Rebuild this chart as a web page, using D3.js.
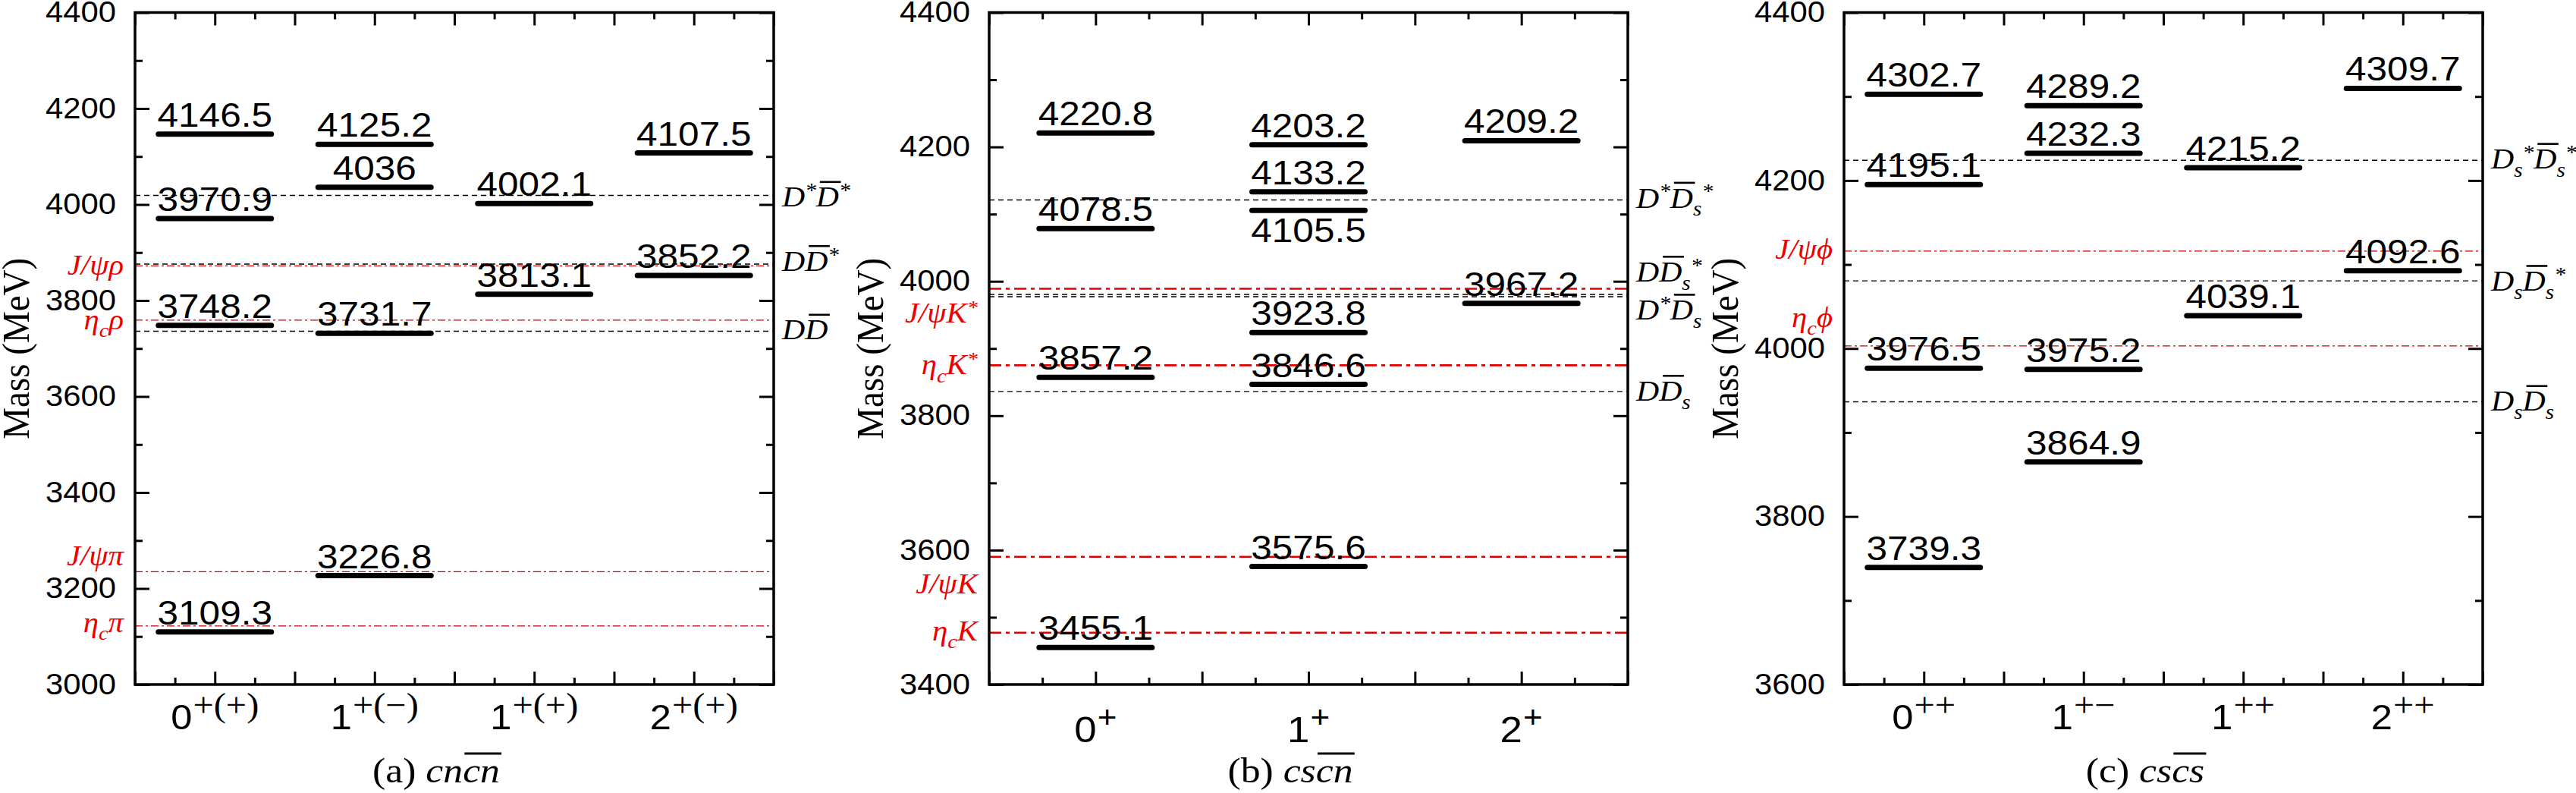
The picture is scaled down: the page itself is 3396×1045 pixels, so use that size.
<!DOCTYPE html>
<html>
<head>
<meta charset="utf-8">
<script src="https://cdn.jsdelivr.net/npm/d3@7"></script>
<style>
  body { margin: 0; background: #fff; }
</style>
</head>
<body>
<script>
// ---------------- data ----------------
// (a) cncn
var catsA = [["0", "+(+)"], ["1", "+(\u2212)"], ["1", "+(+)"], ["2", "+(+)"]];
var levelsA = [[4146.5, 3970.9, 3748.2, 3109.3], [4125.2, 4036, 3731.7, 3226.8], [4002.1, 3813.1], [4107.5, 3852.2]];
var openNamesA = ["D^*~D^*", "D~D^*", "D~D"];
var openMassA = [4019, 3876, 3736];
var hidNamesA = ["J/\u03c8\u03c1", "\u03b7_c\u03c1", "J/\u03c8\u03c0", "\u03b7_c\u03c0"];
var hidMassA = [3872, 3759, 3235, 3122];
var yTicksA = [3000, 3200, 3400, 3600, 3800, 4000, 4200, 4400];
var titleA = ["(a)\u00a0", "cn", "cn"];

// (b) cscn
var catsB = [["0", "+"], ["1", "+"], ["2", "+"]];
var levelsB = [[4220.8, 4078.5, 3857.2, 3455.1], [4203.2, 4133.2, 4105.5, 3923.8, 3846.6, 3575.6], [4209.2, 3967.2]];
var openNamesB = ["D^*~D_s^*", "D~D_s^*", "D^*~D_s", "D~D_s"];
var openMassB = [4121, 3980.5, 3977, 3836];
var hidNamesB = ["J/\u03c8K^*", "\u03b7_cK^*", "J/\u03c8K", "\u03b7_cK"];
var hidMassB = [3989, 3875, 3590, 3477];
var yTicksB = [3400, 3600, 3800, 4000, 4200, 4400];
var titleB = ["(b)\u00a0", "cs", "cn"];

// (c) cscs
var catsC = [["0", "++"], ["1", "+\u2212"], ["1", "++"], ["2", "++"]];
var levelsC = [[4302.7, 4195.1, 3976.5, 3739.3], [4289.2, 4232.3, 3975.2, 3864.9], [4215.2, 4039.1], [4309.7, 4092.6]];
var openNamesC = ["D_s^*~D_s^*", "D_s~D_s^*", "D_s~D_s"];
var openMassC = [4224, 4080.5, 3936.6];
var hidNamesC = ["J/\u03c8\u03d5", "\u03b7_c\u03d5"];
var hidMassC = [4116, 4003];
var yTicksC = [3600, 3800, 4000, 4200, 4400];
var titleC = ["(c)\u00a0", "cs", "cs"];

// ---------------- layout ----------------
var SX = 1.1;                 // the figure is a bit stretched horizontally
var W = 842, TOP = 16.5, BOT = 902, MAXM = 4400;
var SERIF = "'Liberation Serif','Times New Roman',serif";
var SANS = "'Liberation Sans',Arial,sans-serif";
var RED = "#ee0000";

// label nudges so names don't sit on tick labels (px)
var openNudgeA = [3, -3, -1], hidNudgeA = [0, 0, -20, -4];
var openNudgeB = [-2, -29, 18, 0], hidNudgeB = [33, 0, 36, -2];
var openNudgeC = [-1, 1, 0], hidNudgeC = [-2, -37];

var panels = [
  {x0: 178, ymin: 3000, cats: catsA, levels: levelsA, openNames: openNamesA, openMass: openMassA,
   hidNames: hidNamesA, hidMass: hidMassA, yTicks: yTicksA, title: titleA,
   openNudge: openNudgeA, hidNudge: hidNudgeA, below: [],
   redW: 1.3, redDash: "10,4,3,4", redCol: "#c80000", catDy: 59, digitFs: 46, supFs: 44, supFont: SERIF, supRaise: 17},
  {x0: 1304, ymin: 3400, cats: catsB, levels: levelsB, openNames: openNamesB, openMass: openMassB,
   hidNames: hidNamesB, hidMass: hidMassB, yTicks: yTicksB, title: titleB,
   openNudge: openNudgeB, hidNudge: hidNudgeB, below: [4105.5],
   redW: 2.6, redDash: "16,6,5,6", redCol: "#dd0000", catDy: 76, digitFs: 48, supFs: 40, supFont: SANS, supRaise: 19},
  {x0: 2431, ymin: 3600, cats: catsC, levels: levelsC, openNames: openNamesC, openMass: openMassC,
   hidNames: hidNamesC, hidMass: hidMassC, yTicks: yTicksC, title: titleC,
   openNudge: openNudgeC, hidNudge: hidNudgeC, below: [],
   redW: 1.3, redDash: "10,4,3,4", redCol: "#c80000", catDy: 59, digitFs: 46, supFs: 44, supFont: SERIF, supRaise: 17}
];

var svg = d3.select("body").append("svg")
    .attr("width", 3396)
    .attr("height", 1045)
    .style("display", "block");

svg.append("rect").attr("width", 3396).attr("height", 1045).attr("fill", "#fff");

// group translated + stretched, for text
function stretchG(parent, x, y) {
  return parent.append("g").attr("transform", "translate(" + x + "," + y + ") scale(" + SX + ",1)");
}

// tiny markup: ~X = X with overbar, _x = subscript, ^x = superscript
function richLabel(parent, str, size, color) {
  var ch = Array.from(str), toks = [], i = 0;
  while (i < ch.length) {
    if (ch[i] === "~") { toks.push({t: ch[i + 1], pos: 0, bar: true}); i += 2; }
    else if (ch[i] === "^") { toks.push({t: ch[i + 1], pos: 1}); i += 2; }
    else if (ch[i] === "_") { toks.push({t: ch[i + 1], pos: -1}); i += 2; }
    else { toks.push({t: ch[i], pos: 0}); i += 1; }
  }
  var cx = 0;
  toks.forEach(function(k) {
    var fs = k.pos ? size * 0.7 : size;
    var dy = k.pos === 1 ? -size * 0.32 : (k.pos === -1 ? size * 0.28 : 0);
    var t = parent.append("text")
        .attr("x", cx).attr("y", dy)
        .attr("font-family", SERIF).attr("font-style", "italic")
        .attr("font-size", fs).attr("fill", color)
        .text(k.t);
    var w = t.node().getComputedTextLength();
    if (k.bar) {
      parent.append("line")
          .attr("x1", cx + size * 0.12).attr("x2", cx + w + size * 0.06)
          .attr("y1", -size * 0.86).attr("y2", -size * 0.86)
          .attr("stroke", color).attr("stroke-width", 2.6);
    }
    cx += w;
  });
  return cx;
}

panels.forEach(function(p) {
  var n = p.cats.length;
  var x = d3.scaleLinear().domain([-0.5, n - 0.5]).range([p.x0, p.x0 + W]);
  var y = d3.scaleLinear().domain([p.ymin, MAXM]).range([BOT, TOP]);
  var g = svg.append("g");

  // open-charm thresholds (black dashed)
  g.selectAll("line.open").data(p.openMass).enter().append("line")
      .attr("class", "open")
      .attr("x1", p.x0).attr("x2", p.x0 + W)
      .attr("y1", function(d) { return y(d); }).attr("y2", function(d) { return y(d); })
      .attr("stroke", "#000").attr("stroke-width", 1.4).attr("stroke-dasharray", "7,5");

  // hidden-charm thresholds (red dash-dot)
  g.selectAll("line.hid").data(p.hidMass).enter().append("line")
      .attr("class", "hid")
      .attr("x1", p.x0).attr("x2", p.x0 + W)
      .attr("y1", function(d) { return y(d); }).attr("y2", function(d) { return y(d); })
      .attr("stroke", p.redCol).attr("stroke-width", p.redW).attr("stroke-dasharray", p.redDash);

  // threshold names
  p.openNames.forEach(function(nm, i) {
    var lg = stretchG(g, p.x0 + W + 11, y(p.openMass[i]) + 12 + p.openNudge[i]);
    richLabel(lg, nm, 38, "#000");
  });
  p.hidNames.forEach(function(nm, i) {
    var lg = stretchG(g, p.x0 - 15, y(p.hidMass[i]) + 12 + p.hidNudge[i]);
    var inner = lg.append("g");
    var w = richLabel(inner, nm, 37, RED);
    inner.attr("transform", "translate(" + (-w) + ",0)");
  });

  // levels
  p.levels.forEach(function(vals, ci) {
    vals.forEach(function(v) {
      var below = p.below.indexOf(v) >= 0;
      stretchG(g, x(ci), y(v) + (below ? 42 : -10)).append("text")
          .attr("text-anchor", "middle")
          .attr("font-family", SANS).attr("font-size", 45)
          .text(String(v));
    });
    g.selectAll(null).data(vals).enter().append("line")
        .attr("x1", x(ci) - 74.5).attr("x2", x(ci) + 74.5)
        .attr("y1", function(d) { return y(d); }).attr("y2", function(d) { return y(d); })
        .attr("stroke", "#000").attr("stroke-width", 7).attr("stroke-linecap", "round");
  });

  // ticks (all inward)
  var xMajor = d3.range(-0.5, n - 0.5 + 1e-6, 0.5);
  var xMinor = d3.range(-0.25, n - 0.5, 0.5);
  var yMinor = d3.range(p.ymin + 100, MAXM, 200);

  function styleAxis(a) {
    a.select(".domain").remove();
    a.selectAll("line").attr("stroke", "#000").attr("stroke-width", 3);
  }
  var left = g.append("g").attr("transform", "translate(" + p.x0 + ",0)")
      .call(d3.axisLeft(y).tickValues(p.yTicks).tickSize(-19).tickPadding(25).tickFormat(d3.format("d")));
  styleAxis(left);
  left.selectAll("text")
      .attr("x", 0)
      .attr("transform", "translate(-25,0) scale(" + SX + ",1)")
      .attr("font-family", SANS).attr("font-size", 38).attr("fill", "#000");
  styleAxis(g.append("g").attr("transform", "translate(" + p.x0 + ",0)")
      .call(d3.axisLeft(y).tickValues(yMinor).tickSize(-10).tickFormat("")));
  styleAxis(g.append("g").attr("transform", "translate(" + (p.x0 + W) + ",0)")
      .call(d3.axisRight(y).tickValues(p.yTicks).tickSize(-19).tickFormat("")));
  styleAxis(g.append("g").attr("transform", "translate(" + (p.x0 + W) + ",0)")
      .call(d3.axisRight(y).tickValues(yMinor).tickSize(-10).tickFormat("")));
  styleAxis(g.append("g").attr("transform", "translate(0," + BOT + ")")
      .call(d3.axisBottom(x).tickValues(xMajor).tickSize(-17).tickFormat("")));
  styleAxis(g.append("g").attr("transform", "translate(0," + BOT + ")")
      .call(d3.axisBottom(x).tickValues(xMinor).tickSize(-9).tickFormat("")));
  styleAxis(g.append("g").attr("transform", "translate(0," + TOP + ")")
      .call(d3.axisTop(x).tickValues(xMajor).tickSize(-17).tickFormat("")));
  styleAxis(g.append("g").attr("transform", "translate(0," + TOP + ")")
      .call(d3.axisTop(x).tickValues(xMinor).tickSize(-9).tickFormat("")));

  // frame
  g.append("rect")
      .attr("x", p.x0).attr("y", TOP).attr("width", W).attr("height", BOT - TOP)
      .attr("fill", "none").attr("stroke", "#000").attr("stroke-width", 3.5);

  // category labels J^PC
  p.cats.forEach(function(c, i) {
    var cg = stretchG(g, x(i), BOT + p.catDy);
    var inner = cg.append("g");
    var t1 = inner.append("text").attr("font-family", SANS).attr("font-size", p.digitFs).text(c[0]);
    var w1 = t1.node().getComputedTextLength();
    var t2 = inner.append("text").attr("x", w1 + 1).attr("y", -p.supRaise)
        .attr("font-family", p.supFont).attr("font-size", p.supFs).text(c[1]);
    var w = w1 + 1 + t2.node().getComputedTextLength();
    inner.attr("transform", "translate(" + (-w / 2) + ",0)");
  });

  // y axis title
  g.append("g")
      .attr("transform", "translate(" + (p.x0 - 140) + "," + ((TOP + BOT) / 2) + ") scale(" + SX + ",1) rotate(-90)")
    .append("text")
      .attr("text-anchor", "middle")
      .attr("font-family", SERIF).attr("font-size", 47)
      .text("Mass (MeV)");

  // panel title, e.g. (a) cn + overlined cn
  var tg = stretchG(g, p.x0 + W / 2 - 24, 1031);
  var tin = tg.append("g"), cx = 0;
  p.title.forEach(function(s, k) {
    var t = tin.append("text").attr("x", cx)
        .attr("font-family", SERIF).attr("font-size", 47)
        .attr("font-style", k ? "italic" : "normal")
        .text(s);
    var w = t.node().getComputedTextLength();
    if (k === 2) {
      tin.append("line").attr("x1", cx + 2).attr("x2", cx + w + 2)
          .attr("y1", -38).attr("y2", -38)
          .attr("stroke", "#000").attr("stroke-width", 3);
    }
    cx += w;
  });
  tin.attr("transform", "translate(" + (-cx / 2) + ",0)");
});
</script>
</body>
</html>
